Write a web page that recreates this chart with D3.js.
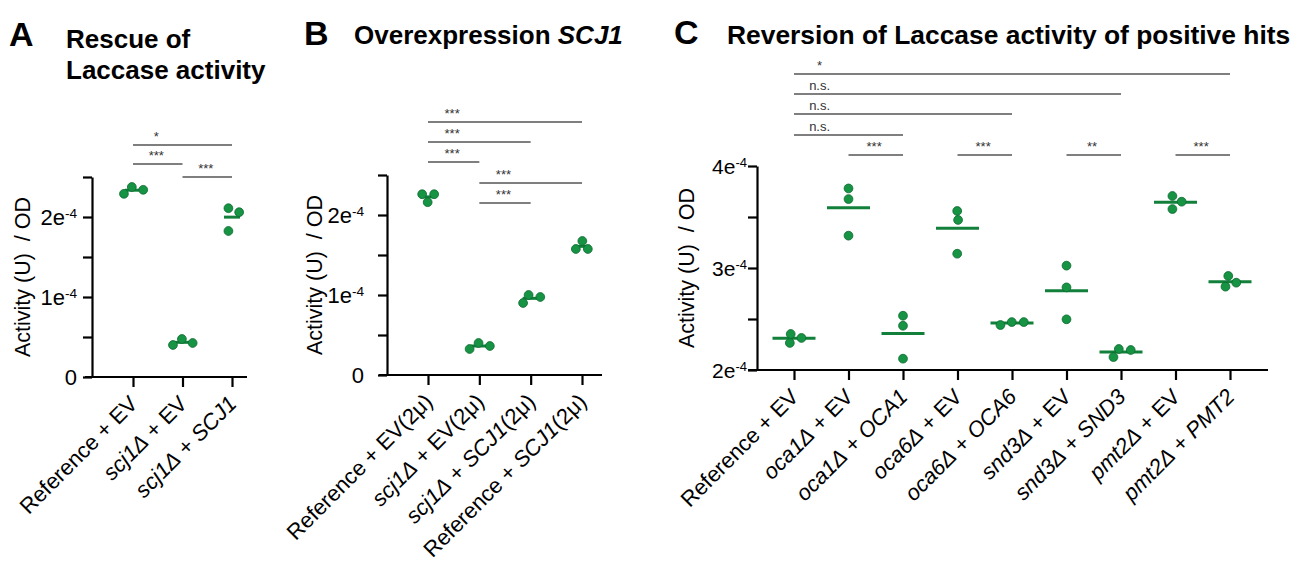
<!DOCTYPE html>
<html>
<head>
<meta charset="utf-8">
<script src="https://cdn.jsdelivr.net/npm/d3@7"></script>
<style>
  body { margin: 0; background: #fff; }
  svg { font-family: "Liberation Sans", Arial, sans-serif; }
</style>
</head>
<body>
<svg id="chart" width="1306" height="567"></svg>
<script>
// ---- data (activity, U / OD); *text* marks italic parts of a label ----
var groupsA = ["Reference + EV", "*scj1Δ* + EV", "*scj1Δ* + *SCJ1*"];
var valuesA = [
  [2.375e-4, 2.29e-4, 2.34e-4],
  [0.40e-4, 0.475e-4, 0.425e-4],
  [2.11e-4, 2.06e-4, 1.825e-4]
];
var sigA = [
  { from: 0, to: 2, label: "*" },
  { from: 0, to: 1, label: "***" },
  { from: 1, to: 2, label: "***" }
];
var majorTicksA = [0, 1e-4, 2e-4];
var minorTicksA = [0.5e-4, 1.5e-4, 2.5e-4];

var groupsB = ["Reference + EV(2μ)", "*scj1Δ* + EV(2μ)", "*scj1Δ* + *SCJ1*(2μ)", "Reference + *SCJ1*(2μ)"];
var valuesB = [
  [2.26e-4, 2.26e-4, 2.16e-4],
  [0.40e-4, 0.325e-4, 0.3625e-4],
  [1.0e-4, 0.975e-4, 0.90e-4],
  [1.675e-4, 1.575e-4, 1.575e-4]
];
var sigB = [
  { from: 0, to: 3, label: "***" },
  { from: 0, to: 2, label: "***" },
  { from: 0, to: 1, label: "***" },
  { from: 1, to: 3, label: "***" },
  { from: 1, to: 2, label: "***" }
];
var majorTicksB = [0, 1e-4, 2e-4];
var minorTicksB = [0.5e-4, 1.5e-4, 2.5e-4];

var groupsC = ["Reference + EV", "*oca1Δ* + EV", "*oca1Δ* + *OCA1*", "*oca6Δ* + EV", "*oca6Δ* + *OCA6*",
  "*snd3Δ* + EV", "*snd3Δ* + *SND3*", "*pmt2Δ* + EV", "*pmt2Δ* + *PMT2*"];
var valuesC = [
  [2.353e-4, 2.265e-4, 2.314e-4],
  [3.78e-4, 3.676e-4, 3.317e-4],
  [2.532e-4, 2.434e-4, 2.111e-4],
  [3.559e-4, 3.471e-4, 3.14e-4],
  [2.441e-4, 2.47e-4, 2.47e-4],
  [3.023e-4, 2.81e-4, 2.497e-4],
  [2.206e-4, 2.196e-4, 2.127e-4],
  [3.706e-4, 3.65e-4, 3.578e-4],
  [2.922e-4, 2.856e-4, 2.817e-4]
];
var sigC = [
  { from: 0, to: 8, label: "*" },
  { from: 0, to: 6, label: "n.s." },
  { from: 0, to: 4, label: "n.s." },
  { from: 0, to: 2, label: "n.s." },
  { from: 1, to: 2, label: "***" },
  { from: 3, to: 4, label: "***" },
  { from: 5, to: 6, label: "**" },
  { from: 7, to: 8, label: "***" }
];
var majorTicksC = [2e-4, 3e-4, 4e-4];
var minorTicksC = [2.5e-4, 3.5e-4];

var yTitle = "Activity (U)  / OD";

// ---- styles ----
var green = "#169343";
var greenDark = "#0c6a30";
var meanColor = "#12803b";
var sigColor = "#555";

var svg = d3.select("#chart");

// write a label with *italic* parts as tspans
function richText(sel, str) {
  str.split("*").forEach(function (part, i) {
    if (!part) { return; }
    sel.append("tspan").text(part).style("font-style", i % 2 ? "italic" : "normal");
  });
}

// Prism-like horizontal dodge of the replicate points
function swarm(vals, y, w, h) {
  var pts = vals.map(function (v) { return { v: v, y: y(v) }; })
    .sort(function (a, b) { return a.y - b.y; });
  var placed = [];
  pts.forEach(function (p) {
    var cands = [0];
    placed.forEach(function (q) {
      var dy = p.y - q.y;
      if (Math.abs(dy) < h) {
        var dx = w * Math.sqrt(1 - (dy / h) * (dy / h));
        cands.push(q.dx + dx, q.dx - dx);
      }
    });
    cands.sort(function (a, b) { return Math.abs(a) - Math.abs(b); });
    p.dx = cands.find(function (c) {
      return placed.every(function (q) {
        var ex = (c - q.dx) / w, ey = (p.y - q.y) / h;
        return ex * ex + ey * ey >= 0.999;
      });
    });
    placed.push(p);
  });
  var m = d3.mean(placed, function (p) { return p.dx; });
  placed.forEach(function (p) { p.dx -= m; });
  return placed;
}

function drawPanel(cfg) {
  var g = svg.append("g");

  // panel letter and title
  g.append("text")
    .attr("x", cfg.letterX).attr("y", cfg.letterY)
    .style("font-size", "34px").style("font-weight", "bold")
    .text(cfg.letter);
  cfg.title.forEach(function (line, i) {
    var t = g.append("text")
      .attr("x", cfg.titleX).attr("y", cfg.titleY + i * 31)
      .style("font-size", cfg.titleFont + "px").style("font-weight", "bold");
    richText(t, line);
  });

  var x = d3.scalePoint()
    .domain(d3.range(cfg.groups.length))
    .range([cfg.xFirst, cfg.xLast]);
  var y = d3.scaleLinear()
    .domain(cfg.domain)
    .range([cfg.yBottom, cfg.yTop]);

  // y axis
  var yAxis = d3.axisLeft(y)
    .tickValues(cfg.major.concat(cfg.minor))
    .tickSize(9).tickSizeOuter(0)
    .tickFormat("");
  var yg = g.append("g")
    .attr("transform", "translate(" + cfg.yAxisX + ",0)")
    .call(yAxis);
  yg.selectAll("path, line").attr("stroke", "#000").attr("stroke-width", 2.2);

  // y tick labels, "2e" + superscript "-4"
  cfg.major.forEach(function (v) {
    var t = g.append("text")
      .attr("x", cfg.labelRight).attr("y", y(v))
      .attr("dy", "0.36em")
      .attr("text-anchor", "end")
      .style("font-size", cfg.tickFont + "px");
    if (v === 0) {
      t.text("0");
    } else {
      var exp = Math.floor(Math.log10(v) + 1e-9);
      var man = Math.round(v / Math.pow(10, exp));
      t.append("tspan").text(man + "e");
      t.append("tspan").text(String(exp))
        .attr("dy", "-0.48em").style("font-size", (cfg.tickFont * 0.62) + "px");
    }
  });

  // y title
  g.append("text")
    .attr("transform", "translate(" + cfg.yTitleX + "," + ((cfg.yTop + cfg.yBottom) / 2) + ") rotate(-90)")
    .attr("text-anchor", "middle")
    .style("font-size", "21.5px")
    .style("white-space", "pre")
    .text(yTitle);

  // x axis
  g.append("line")
    .attr("x1", cfg.xAxisFrom).attr("x2", cfg.xAxisTo)
    .attr("y1", cfg.yBottom).attr("y2", cfg.yBottom)
    .attr("stroke", "#000").attr("stroke-width", 2.2);
  var xg = g.append("g")
    .attr("transform", "translate(0," + cfg.yBottom + ")")
    .call(d3.axisBottom(x).tickSize(10).tickSizeOuter(0).tickFormat(""));
  xg.select(".domain").remove();
  xg.selectAll("line").attr("stroke", "#000").attr("stroke-width", 2.2);

  // x labels, rotated
  cfg.groups.forEach(function (name, i) {
    var t = g.append("text")
      .attr("transform", "translate(" + (x(i) + 6) + "," + (cfg.yBottom + 28) + ") rotate(-45)")
      .attr("text-anchor", "end")
      .style("font-size", "22px");
    richText(t, name);
  });

  // means and points
  cfg.values.forEach(function (vals, i) {
    var gx = x(i);
    g.append("line")
      .attr("x1", gx - cfg.meanW / 2).attr("x2", gx + cfg.meanW / 2)
      .attr("y1", y(d3.mean(vals))).attr("y2", y(d3.mean(vals)))
      .attr("stroke", meanColor).attr("stroke-width", 3);
    g.selectAll(null)
      .data(swarm(vals, y, 12, 9))
      .enter().append("circle")
      .attr("cx", function (d) { return gx + d.dx; })
      .attr("cy", function (d) { return d.y; })
      .attr("r", 4.4)
      .attr("fill", green)
      .attr("stroke", greenDark)
      .attr("stroke-width", 0.8);
  });

  // significance bars
  var step = x.step();
  cfg.sig.forEach(function (s, i) {
    var ly = cfg.sigY[i];
    g.append("line")
      .attr("x1", x(s.from)).attr("x2", x(s.to))
      .attr("y1", ly).attr("y2", ly)
      .attr("stroke", sigColor).attr("stroke-width", 1.3);
    g.append("text")
      .attr("x", x(s.from) + step * 0.47)
      .attr("y", ly - 4)
      .attr("text-anchor", "middle")
      .style("font-size", "13px")
      .attr("fill", "#333")
      .text(s.label);
  });
}

drawPanel({
  letter: "A", letterX: 9, letterY: 46,
  title: ["Rescue of", "Laccase activity"], titleX: 66, titleY: 48, titleFont: 26,
  groups: groupsA, values: valuesA, sig: sigA, sigY: [145, 164, 177],
  major: majorTicksA, minor: minorTicksA, domain: [0, 2.5e-4],
  xFirst: 133, xLast: 232, yAxisX: 92, xAxisFrom: 85, xAxisTo: 247,
  yTop: 177, yBottom: 377, labelRight: 77, tickFont: 22, yTitleX: 30, meanW: 16
});

drawPanel({
  letter: "B", letterX: 304, letterY: 45,
  title: ["Overexpression *SCJ1*"], titleX: 354, titleY: 44, titleFont: 26,
  groups: groupsB, values: valuesB, sig: sigB, sigY: [122, 142, 162, 183, 203],
  major: majorTicksB, minor: minorTicksB, domain: [0, 2.5e-4],
  xFirst: 428, xLast: 582, yAxisX: 387, xAxisFrom: 379, xAxisTo: 602,
  yTop: 175, yBottom: 375, labelRight: 364, tickFont: 22, yTitleX: 322, meanW: 16
});

drawPanel({
  letter: "C", letterX: 674, letterY: 44,
  title: ["Reversion of Laccase activity of positive hits"], titleX: 727, titleY: 44, titleFont: 26.4,
  groups: groupsC, values: valuesC, sig: sigC, sigY: [74, 94, 114, 135, 155, 155, 155, 155],
  major: majorTicksC, minor: minorTicksC, domain: [2e-4, 4e-4],
  xFirst: 794, xLast: 1230, yAxisX: 757, xAxisFrom: 748, xAxisTo: 1268,
  yTop: 166, yBottom: 370, labelRight: 747, tickFont: 21, yTitleX: 694, meanW: 43
});
</script>
</body>
</html>
